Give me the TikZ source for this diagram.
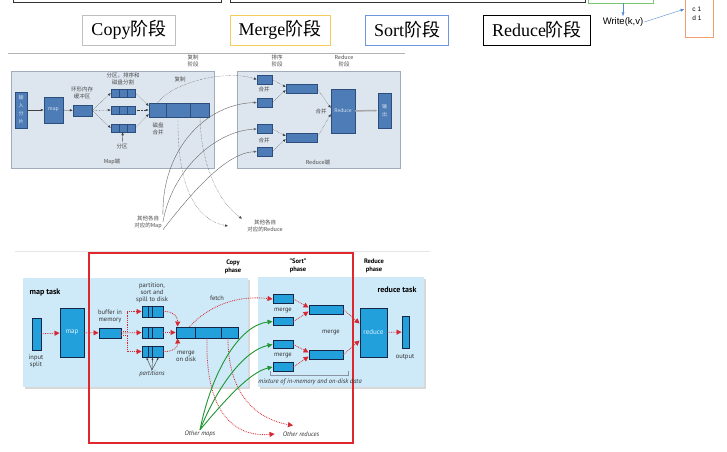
\documentclass[tikz,border=0pt]{standalone}
\usepackage{fontspec}
\setmainfont{Liberation Serif}
\setsansfont{PT Sans}
\newfontfamily\cjk{Noto Sans CJK SC}
\newfontfamily\arialfont{Liberation Sans}
\usetikzlibrary{arrows.meta, positioning, calc, shadows}
\definecolor{PanelGrey}{RGB}{221, 229, 238}
\definecolor{PanelEdge}{RGB}{160, 172, 186}
\definecolor{SteelBlue}{RGB}{78, 124, 182}
\definecolor{SteelEdge}{RGB}{44, 78, 124}
\definecolor{SkyPanel}{RGB}{206, 233, 247}
\definecolor{SkyBox}{RGB}{34, 160, 220}
\definecolor{NavyEdge}{RGB}{22, 38, 70}
\definecolor{FrameRed}{RGB}{222, 40, 46}
\definecolor{DotRed}{RGB}{214, 40, 50}
\definecolor{MapGreen}{RGB}{30, 150, 50}
\definecolor{NoteBlue}{RGB}{80, 140, 210}
\definecolor{PhaseYellow}{RGB}{245, 205, 90}
\definecolor{PhaseBlue}{RGB}{110, 150, 220}
\definecolor{WriteGreen}{RGB}{120, 200, 110}
\definecolor{CountOrange}{RGB}{240, 160, 110}

\begin{document}
\begin{tikzpicture}[
        x = 1pt, y = -1pt,
        phase/.style = {draw, line width = 0.8pt, minimum height = 30, inner sep = 0pt, font = \fontsize{18}{18}\selectfont},
        tpanel/.style = {draw = PanelEdge, fill = PanelGrey, inner sep = 0pt},
        tcell/.style = {draw = SteelEdge, fill = SteelBlue, inner sep = 0pt, align = center, text = white!80!SteelBlue, font = \cjk\fontsize{5}{8}\selectfont},
        tlab/.style = {font = \cjk\fontsize{5.5}{7}\selectfont, text = black!70, align = center, inner sep = 1pt},
        tdot/.style = {densely dotted, black!75, -{Latex[length = 3pt, width = 2.5pt]}},
        tline/.style = {black!60, -{Latex[length = 3pt, width = 2.5pt]}},
        bpanel/.style = {fill = SkyPanel, inner sep = 0pt, drop shadow = {shadow xshift = 2pt, shadow yshift = -2pt, fill = black!30}},
        bcell/.style = {draw = NavyEdge, fill = SkyBox, line width = 0.9pt, inner sep = 0pt, text = white!85!SkyBox, font = \sffamily\fontsize{7}{8}\selectfont},
        blab/.style = {font = \sffamily\fontsize{6.5}{7}\selectfont, text = black!80, align = center, inner sep = 1pt},
        bita/.style = {blab, font = \sffamily\itshape\fontsize{6.5}{7}\selectfont},
        bhead/.style = {font = \sffamily\bfseries\fontsize{6.5}{8}\selectfont, align = center, inner sep = 1pt},
        rarr/.style = {densely dotted, DotRed, line width = 0.8pt, -{Triangle[length = 5pt, width = 5pt]}},
        garr/.style = {MapGreen, line width = 0.9pt, -{Triangle[length = 5pt, width = 4.5pt]}}
    ]
        \useasboundingbox (0,0) rectangle (727,451);
        \fill[white] (0,0) rectangle (727,451);
        \clip (0,0) rectangle (727,451);

        \draw[black!80, line width = 0.8pt] (13,-5) rectangle (221,2);
        \draw[black!80, line width = 0.8pt] (230,-5) rectangle (585,2);
        \node[draw = WriteGreen, line width = 0.8pt, minimum width = 65, minimum height = 12, inner sep = 0pt] (wbox) at (620.5,-3) {};
        \node[font = \arialfont\fontsize{9.5}{9.5}\selectfont, inner sep = 1pt] (wrt) at (623,22) {Write(k,v)};
        \node[draw = CountOrange, line width = 0.8pt, minimum width = 28, minimum height = 46, inner sep = 0pt] (cbox) at (699,14) {};
        \node[font = \arialfont\fontsize{6.5}{9}\selectfont, align = left, inner sep = 0pt] (ctxt) at (697,13.5) {c 1\\d 1};
        \draw[NoteBlue, -{Latex[length = 4pt]}] (wbox.south -| wrt) -- (wrt.north);
        \draw[NoteBlue, -{Latex[length = 4pt]}] (wrt.east) -- (cbox.west |- 0,9);

        \node[phase, draw = black!25, minimum width = 93] (copyp) at (129,30) {Copy{\cjk 阶段}};
        \node[phase, draw = PhaseYellow, minimum width = 100] (mergep) at (280,30) {Merge{\cjk 阶段}};
        \node[phase, draw = PhaseBlue, minimum width = 83] (sortp) at (407,30) {Sort{\cjk 阶段}};
        \node[phase, draw = black, minimum width = 107] (reducep) at (537,30) {Reduce{\cjk 阶段}};

        \draw[black!30] (8,53) -- (405,53);
        \node[tlab] (copys) at (193,61) {复制\\阶段};
        \node[tlab] (sorts) at (277,61) {排序\\阶段};
        \node[tlab] (reds) at (344,61) {Reduce\\阶段};

        \node[tpanel, minimum width = 203, minimum height = 97] (mapside) at (112.5,119.5) {};
        \node[tpanel, minimum width = 163, minimum height = 97] (redside) at (318.5,119.5) {};

        \node[tcell, minimum width = 12, minimum height = 36] (inp) at (21,110) {输\\入\\分\\片};
        \node[tcell, minimum width = 19, minimum height = 26] (mapt) at (53.5,110) {map};
        \node[tcell, minimum width = 19, minimum height = 11] (buf) at (82.5,110.5) {};
        \node[tlab] (bufl) at (82,93) {环形内存\\缓冲区};
        \foreach \n/\y in {part1/93, part2/110, part3/128}
            \node[tcell, minimum width = 24, minimum height = 8] (\n) at (123,\y) {};
        \node[tlab] (partl) at (123,79) {分区，排序和\\磁盘分割};
        \node[tcell, minimum width = 60, minimum height = 14] (mrg) at (179,110) {};
        \node[tlab] (mrgl) at (158,129) {磁盘\\合并};
        \node[tlab] (fenq) at (122,146) {分区};
        \node[tlab] (mapl) at (112,162) {Map端};
        \node[tlab] (fuzhi) at (180,79) {复制};

        \foreach \n/\y in {rs1/79.5, rs2/102.5, rs3/129, rs4/151.5}
            \node[tcell, minimum width = 15, minimum height = 9] (\n) at (264.5,\y) {};
        \node[tlab] (hb1) at (264,89.5) {合并};
        \node[tlab] (hb2) at (264,140) {合并};
        \node[tcell, minimum width = 31, minimum height = 9] (so1) at (301.5,88.5) {};
        \node[tcell, minimum width = 31, minimum height = 9] (so2) at (301.5,137.5) {};
        \node[tcell, minimum width = 24, minimum height = 44] (redt) at (343,111) {Reduce};
        \node[tlab] (hb3) at (321,111) {合并};
        \node[tcell, minimum width = 13, minimum height = 35] (outt) at (384.5,110.5) {输\\出};
        \node[tlab] (redl) at (318,162) {Reduce端};

        \node[tlab] (omap) at (148,222) {其他各自\\对应的Map};
        \node[tlab] (ored) at (265,226) {其他各自\\对应的Reduce};

        \foreach \n in {part1, part2, part3}
            \foreach \f in {0.33, 0.67}
                \draw[SteelEdge] ($(\n.north west)!\f!(\n.north east)$) -- ($(\n.south west)!\f!(\n.south east)$);
        \foreach \f in {0.28, 0.68}
            \draw[SteelEdge] ($(mrg.north west)!\f!(mrg.north east)$) -- ($(mrg.south west)!\f!(mrg.south east)$);

        \draw[tline, black!75] (inp) -- (mapt);
        \draw[tline, black!75] (mapt) -- (buf);
        \foreach \n in {part1, part2, part3}
            \draw[tdot] (buf.east) -- (\n.west);
        \draw[tdot] (part1.east) -- ([yshift = 4]mrg.west);
        \draw[tdot] (part2.east) -- (mrg.west);
        \draw[tdot] (part3.east) -- ([yshift = -4]mrg.west);
        \draw[tline, black!75] (fenq) -- (part3);
        \draw[tdot] ([xshift = 9]mrg.north west) .. controls (175,80) and (230,70) .. (rs1.west);
        \draw[tline] (omap.north east) .. controls (162,150) and (205,104) .. (rs2.west);
        \draw[tline] (omap.east) .. controls (172,170) and (215,131) .. (rs3.west);
        \draw[tline] (omap.south east) .. controls (190,195) and (225,153) .. (rs4.west);
        \draw[tdot] ([xshift = -1]mrg.south) .. controls (177,185) and (195,220) .. ([xshift = -18]ored.west);
        \draw[tdot] ([xshift = 21]mrg.south) .. controls (201,170) and (222,205) .. ([xshift = -4]ored.north west);

        \draw[tdot] (rs1.east) -- ([yshift = 1.5]so1.west);
        \draw[tdot] (rs2.east) -- ([yshift = -1.5]so1.west);
        \draw[tdot] (rs3.east) -- ([yshift = 1.5]so2.west);
        \draw[tdot] (rs4.east) -- ([yshift = -1.5]so2.west);
        \draw[tdot] (so1.east) -- ([yshift = 3]redt.west);
        \draw[tdot] (so2.east) -- ([yshift = -3]redt.west);
        \draw[black!35, line width = 1.5pt, -{Latex[length = 3pt]}] (redt) -- (outt);

        \draw[black!10] (15,251) -- (430,251);
        \node[bpanel, minimum width = 225, minimum height = 109] (mpanel) at (135.5,332.5) {};
        \node[bpanel, minimum width = 166, minimum height = 110] (rpanel) at (341,332) {};
        \node[bhead, font = \sffamily\bfseries\fontsize{8}{8}\selectfont] (mtask) at (45,292) {map task};
        \node[bhead, font = \sffamily\bfseries\fontsize{8}{8}\selectfont] (rtask) at (397,290) {reduce task};
        \node[bhead] (copyh) at (233,267) {Copy\\phase};
        \node[bhead] (sorth) at (298,266) {"Sort"\\phase};
        \node[bhead] (redh) at (374,266) {Reduce\\phase};

        \node[draw = FrameRed, line width = 1.2pt, minimum width = 264, minimum height = 190, inner sep = 0pt] (copyframe) at (221,348) {};

        \node[bcell, minimum width = 9, minimum height = 32] (insp) at (36.5,334) {};
        \node[blab] (inspl) at (36,361) {input\\split};
        \node[bcell, minimum width = 24, minimum height = 49] (mapb) at (72,332.5) {map};
        \node[bcell, minimum width = 22, minimum height = 10] (bufb) at (110,333) {};
        \node[blab] (bufbl) at (110,316.5) {buffer in\\memory};
        \foreach \n/\y in {pb1/311.5, pb2/332.5, pb3/351.5}
            \node[bcell, minimum width = 21, minimum height = 11] (\n) at (152.5,\y) {};
        \node[blab] (pbl) at (152,293) {partition,\\sort and\\spill to disk};
        \node[bita] (partsl) at (152,374) {partitions};
        \node[bcell, minimum width = 62, minimum height = 11] (mrgb) at (207,332.5) {};
        \node[blab] (mrgbl) at (186,356) {merge\\on disk};
        \node[blab] (fetchl) at (217,298) {fetch};

        \foreach \n in {pb1, pb2, pb3}
            \foreach \f in {0.3, 0.5}
                \draw[NavyEdge, line width = 0.8pt] ($(\n.north west)!\f!(\n.north east)$) -- ($(\n.south west)!\f!(\n.south east)$);
        \foreach \f in {0.32, 0.73}
            \draw[NavyEdge, line width = 0.8pt] ($(mrgb.north west)!\f!(mrgb.north east)$) -- ($(mrgb.south west)!\f!(mrgb.south east)$);

        \foreach \n/\y in {rb1/299, rb2/321.5, rb3/344.5, rb4/367}
            \node[bcell, minimum width = 20, minimum height = 8.5] (\n) at (283,\y) {};
        \node[blab] (mgl1) at (283,311) {merge};
        \node[blab] (mgl2) at (283,356) {merge};
        \node[bcell, minimum width = 34, minimum height = 9] (bb1) at (326,309.5) {};
        \node[bcell, minimum width = 34, minimum height = 9] (bb2) at (326,354.5) {};
        \node[blab] (mgl3) at (331,333) {merge};
        \node[bcell, minimum width = 27, minimum height = 49] (redb) at (373.5,332.5) {reduce};
        \node[bcell, minimum width = 7, minimum height = 32] (outb) at (405.5,332) {};
        \node[blab] (outbl) at (405,357) {output};
        \draw[NavyEdge!50] (270,371) -- (270,375) -- (348,375) -- (348,371);
        \node[bita] (mixl) at (310,382) {mixture of in-memory and on-disk data};
        \node[bita] (omapb) at (200,434) {Other maps};
        \node[bita] (oredb) at (301,434) {Other reduces};

        \draw[rarr] (insp) -- (mapb);
        \draw[rarr] (mapb) -- (bufb);
        \draw[rarr] ([yshift = 2]bufb.east) -- ++(6,0) |- (pb1.west);
        \draw[rarr] (bufb.east) -- (pb2.west);
        \draw[rarr] ([yshift = -2]bufb.east) -- ++(6,0) |- (pb3.west);
        \draw[rarr] (pb1.east) .. controls (172,311) and (178,316) .. ([xshift = 2]mrgb.north west);
        \draw[rarr] (pb2.east) -- (mrgb.west);
        \draw[rarr] (pb3.east) .. controls (172,352) and (178,348) .. ([xshift = 2]mrgb.south west);
        \foreach \s in {-6, 0, 6}
            \draw[black!80, -{Latex[length = 2.5pt]}] (partsl.north) -- ([xshift = \s]pb3.south);
        \draw[rarr] ([xshift = 14]mrgb.north west) .. controls (215,300) and (245,296) .. (rb1.west);
        \draw[rarr] (mrgb.south) .. controls (205,420) and (240,437) .. ([xshift = -7]oredb.west);
        \draw[rarr] ([xshift = 21]mrgb.south) .. controls (228,400) and (262,420) .. ([xshift = -8, yshift = 5]oredb.north);
        \draw[garr] (omapb.north) .. controls (212,370) and (240,325) .. (rb2.west);
        \draw[garr] (omapb.north) .. controls (218,385) and (245,350) .. (rb3.west);
        \draw[garr] (omapb.north) .. controls (225,400) and (250,372) .. (rb4.west);

        \draw[rarr] (rb1.east) -- ([yshift = 2]bb1.west);
        \draw[rarr] (rb2.east) -- ([yshift = -2]bb1.west);
        \draw[rarr] (rb3.east) -- ([yshift = 2]bb2.west);
        \draw[rarr] (rb4.east) -- ([yshift = -2]bb2.west);
        \draw[rarr] (bb1.east) -- ([yshift = 9]redb.west);
        \draw[rarr] (bb2.east) -- ([yshift = -8]redb.west);
        \draw[rarr] (redb) -- (outb);
    \end{tikzpicture}
\end{document}
